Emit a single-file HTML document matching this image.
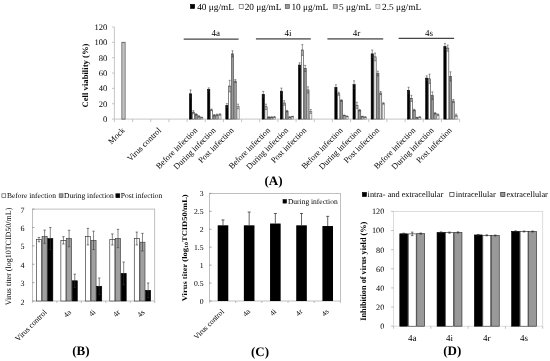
<!DOCTYPE html>
<html><head><meta charset="utf-8"><style>
html,body{margin:0;padding:0;background:#fff;}
svg{display:block;will-change:transform;}
text{font-family:"Liberation Serif", serif;text-rendering:geometricPrecision;}
</style></head><body>
<svg width="550" height="361" viewBox="0 0 550 361">
<defs><pattern id="stripe" width="1.4" height="4" patternUnits="userSpaceOnUse"><rect width="1.4" height="4" fill="#d8d8d8"/><rect width="0.6" height="4" fill="#909090"/></pattern>
<pattern id="stripe2" width="1.6" height="4" patternUnits="userSpaceOnUse"><rect width="1.6" height="4" fill="#e0e0e0"/><rect width="0.5" height="4" fill="#a8a8a8"/></pattern></defs>
<rect width="550" height="361" fill="#fff"/>
<line x1="114.4" y1="27" x2="114.4" y2="119.1" stroke="#b8b8b8" stroke-width="0.8"/>
<line x1="112" y1="119.1" x2="114.4" y2="119.1" stroke="#b8b8b8" stroke-width="0.8"/>
<text x="107.3" y="122.1" font-size="8.5" text-anchor="end" font-weight="normal" fill="#000" >0</text>
<line x1="112" y1="103.75" x2="114.4" y2="103.75" stroke="#b8b8b8" stroke-width="0.8"/>
<text x="107.3" y="106.75" font-size="8.5" text-anchor="end" font-weight="normal" fill="#000" >20</text>
<line x1="112" y1="88.4" x2="114.4" y2="88.4" stroke="#b8b8b8" stroke-width="0.8"/>
<text x="107.3" y="91.4" font-size="8.5" text-anchor="end" font-weight="normal" fill="#000" >40</text>
<line x1="112" y1="73.05" x2="114.4" y2="73.05" stroke="#b8b8b8" stroke-width="0.8"/>
<text x="107.3" y="76.05" font-size="8.5" text-anchor="end" font-weight="normal" fill="#000" >60</text>
<line x1="112" y1="57.7" x2="114.4" y2="57.7" stroke="#b8b8b8" stroke-width="0.8"/>
<text x="107.3" y="60.7" font-size="8.5" text-anchor="end" font-weight="normal" fill="#000" >80</text>
<line x1="112" y1="42.35" x2="114.4" y2="42.35" stroke="#b8b8b8" stroke-width="0.8"/>
<text x="107.3" y="45.35" font-size="8.5" text-anchor="end" font-weight="normal" fill="#000" >100</text>
<line x1="112" y1="27" x2="114.4" y2="27" stroke="#b8b8b8" stroke-width="0.8"/>
<text x="107.3" y="30" font-size="8.5" text-anchor="end" font-weight="normal" fill="#000" >120</text>
<line x1="114.4" y1="119.1" x2="459.6" y2="119.1" stroke="#b8b8b8" stroke-width="0.8"/>
<line x1="114.4" y1="119.1" x2="114.4" y2="122.1" stroke="#b8b8b8" stroke-width="0.8"/>
<line x1="132.57" y1="119.1" x2="132.57" y2="122.1" stroke="#b8b8b8" stroke-width="0.8"/>
<line x1="150.74" y1="119.1" x2="150.74" y2="122.1" stroke="#b8b8b8" stroke-width="0.8"/>
<line x1="168.91" y1="119.1" x2="168.91" y2="122.1" stroke="#b8b8b8" stroke-width="0.8"/>
<line x1="187.07" y1="119.1" x2="187.07" y2="122.1" stroke="#b8b8b8" stroke-width="0.8"/>
<line x1="205.24" y1="119.1" x2="205.24" y2="122.1" stroke="#b8b8b8" stroke-width="0.8"/>
<line x1="223.41" y1="119.1" x2="223.41" y2="122.1" stroke="#b8b8b8" stroke-width="0.8"/>
<line x1="241.58" y1="119.1" x2="241.58" y2="122.1" stroke="#b8b8b8" stroke-width="0.8"/>
<line x1="259.75" y1="119.1" x2="259.75" y2="122.1" stroke="#b8b8b8" stroke-width="0.8"/>
<line x1="277.92" y1="119.1" x2="277.92" y2="122.1" stroke="#b8b8b8" stroke-width="0.8"/>
<line x1="296.08" y1="119.1" x2="296.08" y2="122.1" stroke="#b8b8b8" stroke-width="0.8"/>
<line x1="314.25" y1="119.1" x2="314.25" y2="122.1" stroke="#b8b8b8" stroke-width="0.8"/>
<line x1="332.42" y1="119.1" x2="332.42" y2="122.1" stroke="#b8b8b8" stroke-width="0.8"/>
<line x1="350.59" y1="119.1" x2="350.59" y2="122.1" stroke="#b8b8b8" stroke-width="0.8"/>
<line x1="368.76" y1="119.1" x2="368.76" y2="122.1" stroke="#b8b8b8" stroke-width="0.8"/>
<line x1="386.93" y1="119.1" x2="386.93" y2="122.1" stroke="#b8b8b8" stroke-width="0.8"/>
<line x1="405.09" y1="119.1" x2="405.09" y2="122.1" stroke="#b8b8b8" stroke-width="0.8"/>
<line x1="423.26" y1="119.1" x2="423.26" y2="122.1" stroke="#b8b8b8" stroke-width="0.8"/>
<line x1="441.43" y1="119.1" x2="441.43" y2="122.1" stroke="#b8b8b8" stroke-width="0.8"/>
<line x1="459.6" y1="119.1" x2="459.6" y2="122.1" stroke="#b8b8b8" stroke-width="0.8"/>
<rect x="121.89" y="42.35" width="3.2" height="76.75" fill="url(#stripe2)" stroke="#606060" stroke-width="0.9"/>
<rect x="189.47" y="93.77" width="2.2" height="25.33" fill="#000" stroke="#000" stroke-width="0.6"/>
<rect x="192.27" y="112.19" width="2.2" height="6.91" fill="#fff" stroke="#333" stroke-width="0.6"/>
<rect x="195.06" y="114.49" width="2.2" height="4.6" fill="#9a9a9a" stroke="#444" stroke-width="0.6"/>
<rect x="197.86" y="116.41" width="2.2" height="2.69" fill="url(#stripe)" stroke="#555" stroke-width="0.6"/>
<rect x="200.65" y="117.56" width="2.2" height="1.53" fill="#eeeeee" stroke="#777" stroke-width="0.6"/>
<line x1="190.57" y1="89.93" x2="190.57" y2="97.61" stroke="#333" stroke-width="0.5"/>
<line x1="189.57" y1="89.93" x2="191.57" y2="89.93" stroke="#333" stroke-width="0.5"/>
<line x1="189.57" y1="97.61" x2="191.57" y2="97.61" stroke="#333" stroke-width="0.5"/>
<line x1="193.36" y1="110.66" x2="193.36" y2="113.73" stroke="#333" stroke-width="0.5"/>
<line x1="192.36" y1="110.66" x2="194.36" y2="110.66" stroke="#333" stroke-width="0.5"/>
<line x1="192.36" y1="113.73" x2="194.36" y2="113.73" stroke="#333" stroke-width="0.5"/>
<line x1="196.16" y1="113.73" x2="196.16" y2="115.26" stroke="#333" stroke-width="0.5"/>
<line x1="195.16" y1="113.73" x2="197.16" y2="113.73" stroke="#333" stroke-width="0.5"/>
<line x1="195.16" y1="115.26" x2="197.16" y2="115.26" stroke="#333" stroke-width="0.5"/>
<line x1="198.95" y1="115.65" x2="198.95" y2="117.18" stroke="#333" stroke-width="0.5"/>
<line x1="197.95" y1="115.65" x2="199.95" y2="115.65" stroke="#333" stroke-width="0.5"/>
<line x1="197.95" y1="117.18" x2="199.95" y2="117.18" stroke="#333" stroke-width="0.5"/>
<line x1="201.75" y1="117.18" x2="201.75" y2="117.95" stroke="#333" stroke-width="0.5"/>
<line x1="200.75" y1="117.18" x2="202.75" y2="117.18" stroke="#333" stroke-width="0.5"/>
<line x1="200.75" y1="117.95" x2="202.75" y2="117.95" stroke="#333" stroke-width="0.5"/>
<rect x="207.64" y="89.4" width="2.2" height="29.7" fill="#000" stroke="#000" stroke-width="0.6"/>
<rect x="210.43" y="109.89" width="2.2" height="9.21" fill="#fff" stroke="#333" stroke-width="0.6"/>
<rect x="213.23" y="115.26" width="2.2" height="3.84" fill="#9a9a9a" stroke="#444" stroke-width="0.6"/>
<rect x="216.02" y="114.88" width="2.2" height="4.22" fill="url(#stripe)" stroke="#555" stroke-width="0.6"/>
<rect x="218.82" y="114.49" width="2.2" height="4.6" fill="#eeeeee" stroke="#777" stroke-width="0.6"/>
<line x1="208.74" y1="87.86" x2="208.74" y2="90.93" stroke="#333" stroke-width="0.5"/>
<line x1="207.74" y1="87.86" x2="209.74" y2="87.86" stroke="#333" stroke-width="0.5"/>
<line x1="207.74" y1="90.93" x2="209.74" y2="90.93" stroke="#333" stroke-width="0.5"/>
<line x1="211.53" y1="109.12" x2="211.53" y2="110.66" stroke="#333" stroke-width="0.5"/>
<line x1="210.53" y1="109.12" x2="212.53" y2="109.12" stroke="#333" stroke-width="0.5"/>
<line x1="210.53" y1="110.66" x2="212.53" y2="110.66" stroke="#333" stroke-width="0.5"/>
<line x1="214.33" y1="114.49" x2="214.33" y2="116.03" stroke="#333" stroke-width="0.5"/>
<line x1="213.33" y1="114.49" x2="215.33" y2="114.49" stroke="#333" stroke-width="0.5"/>
<line x1="213.33" y1="116.03" x2="215.33" y2="116.03" stroke="#333" stroke-width="0.5"/>
<line x1="217.12" y1="114.11" x2="217.12" y2="115.65" stroke="#333" stroke-width="0.5"/>
<line x1="216.12" y1="114.11" x2="218.12" y2="114.11" stroke="#333" stroke-width="0.5"/>
<line x1="216.12" y1="115.65" x2="218.12" y2="115.65" stroke="#333" stroke-width="0.5"/>
<line x1="219.92" y1="113.73" x2="219.92" y2="115.26" stroke="#333" stroke-width="0.5"/>
<line x1="218.92" y1="113.73" x2="220.92" y2="113.73" stroke="#333" stroke-width="0.5"/>
<line x1="218.92" y1="115.26" x2="220.92" y2="115.26" stroke="#333" stroke-width="0.5"/>
<rect x="225.81" y="105.52" width="2.2" height="13.58" fill="#000" stroke="#000" stroke-width="0.6"/>
<rect x="228.6" y="86.1" width="2.2" height="33" fill="#fff" stroke="#333" stroke-width="0.6"/>
<rect x="231.4" y="53.86" width="2.2" height="65.24" fill="#9a9a9a" stroke="#444" stroke-width="0.6"/>
<rect x="234.19" y="81.11" width="2.2" height="37.99" fill="url(#stripe)" stroke="#555" stroke-width="0.6"/>
<rect x="236.99" y="106.44" width="2.2" height="12.66" fill="#eeeeee" stroke="#777" stroke-width="0.6"/>
<line x1="226.9" y1="103.6" x2="226.9" y2="107.43" stroke="#333" stroke-width="0.5"/>
<line x1="225.9" y1="103.6" x2="227.9" y2="103.6" stroke="#333" stroke-width="0.5"/>
<line x1="225.9" y1="107.43" x2="227.9" y2="107.43" stroke="#333" stroke-width="0.5"/>
<line x1="229.7" y1="80.34" x2="229.7" y2="91.85" stroke="#333" stroke-width="0.5"/>
<line x1="228.7" y1="80.34" x2="230.7" y2="80.34" stroke="#333" stroke-width="0.5"/>
<line x1="228.7" y1="91.85" x2="230.7" y2="91.85" stroke="#333" stroke-width="0.5"/>
<line x1="232.49" y1="50.79" x2="232.49" y2="56.93" stroke="#333" stroke-width="0.5"/>
<line x1="231.49" y1="50.79" x2="233.49" y2="50.79" stroke="#333" stroke-width="0.5"/>
<line x1="231.49" y1="56.93" x2="233.49" y2="56.93" stroke="#333" stroke-width="0.5"/>
<line x1="235.29" y1="79.57" x2="235.29" y2="82.64" stroke="#333" stroke-width="0.5"/>
<line x1="234.29" y1="79.57" x2="236.29" y2="79.57" stroke="#333" stroke-width="0.5"/>
<line x1="234.29" y1="82.64" x2="236.29" y2="82.64" stroke="#333" stroke-width="0.5"/>
<line x1="238.09" y1="104.13" x2="238.09" y2="108.74" stroke="#333" stroke-width="0.5"/>
<line x1="237.09" y1="104.13" x2="239.09" y2="104.13" stroke="#333" stroke-width="0.5"/>
<line x1="237.09" y1="108.74" x2="239.09" y2="108.74" stroke="#333" stroke-width="0.5"/>
<rect x="262.14" y="94.31" width="2.2" height="24.79" fill="#000" stroke="#000" stroke-width="0.6"/>
<rect x="264.94" y="106.82" width="2.2" height="12.28" fill="#fff" stroke="#333" stroke-width="0.6"/>
<rect x="267.73" y="117.18" width="2.2" height="1.92" fill="#9a9a9a" stroke="#444" stroke-width="0.6"/>
<rect x="270.53" y="117.18" width="2.2" height="1.92" fill="url(#stripe)" stroke="#555" stroke-width="0.6"/>
<rect x="273.32" y="117.03" width="2.2" height="2.07" fill="#eeeeee" stroke="#777" stroke-width="0.6"/>
<line x1="263.24" y1="91.39" x2="263.24" y2="97.23" stroke="#333" stroke-width="0.5"/>
<line x1="262.24" y1="91.39" x2="264.24" y2="91.39" stroke="#333" stroke-width="0.5"/>
<line x1="262.24" y1="97.23" x2="264.24" y2="97.23" stroke="#333" stroke-width="0.5"/>
<line x1="266.04" y1="104.13" x2="266.04" y2="109.51" stroke="#333" stroke-width="0.5"/>
<line x1="265.04" y1="104.13" x2="267.04" y2="104.13" stroke="#333" stroke-width="0.5"/>
<line x1="265.04" y1="109.51" x2="267.04" y2="109.51" stroke="#333" stroke-width="0.5"/>
<line x1="268.83" y1="116.8" x2="268.83" y2="117.56" stroke="#333" stroke-width="0.5"/>
<line x1="267.83" y1="116.8" x2="269.83" y2="116.8" stroke="#333" stroke-width="0.5"/>
<line x1="267.83" y1="117.56" x2="269.83" y2="117.56" stroke="#333" stroke-width="0.5"/>
<line x1="271.63" y1="116.8" x2="271.63" y2="117.56" stroke="#333" stroke-width="0.5"/>
<line x1="270.63" y1="116.8" x2="272.63" y2="116.8" stroke="#333" stroke-width="0.5"/>
<line x1="270.63" y1="117.56" x2="272.63" y2="117.56" stroke="#333" stroke-width="0.5"/>
<line x1="274.42" y1="116.64" x2="274.42" y2="117.41" stroke="#333" stroke-width="0.5"/>
<line x1="273.42" y1="116.64" x2="275.42" y2="116.64" stroke="#333" stroke-width="0.5"/>
<line x1="273.42" y1="117.41" x2="275.42" y2="117.41" stroke="#333" stroke-width="0.5"/>
<rect x="280.31" y="91.16" width="2.2" height="27.94" fill="#000" stroke="#000" stroke-width="0.6"/>
<rect x="283.11" y="102.98" width="2.2" height="16.12" fill="#fff" stroke="#333" stroke-width="0.6"/>
<rect x="285.9" y="111.12" width="2.2" height="7.98" fill="#9a9a9a" stroke="#444" stroke-width="0.6"/>
<rect x="288.7" y="117.1" width="2.2" height="2" fill="url(#stripe)" stroke="#555" stroke-width="0.6"/>
<rect x="291.49" y="116.64" width="2.2" height="2.46" fill="#eeeeee" stroke="#777" stroke-width="0.6"/>
<line x1="281.41" y1="88.09" x2="281.41" y2="94.23" stroke="#333" stroke-width="0.5"/>
<line x1="280.41" y1="88.09" x2="282.41" y2="88.09" stroke="#333" stroke-width="0.5"/>
<line x1="280.41" y1="94.23" x2="282.41" y2="94.23" stroke="#333" stroke-width="0.5"/>
<line x1="284.2" y1="100.68" x2="284.2" y2="105.28" stroke="#333" stroke-width="0.5"/>
<line x1="283.2" y1="100.68" x2="285.2" y2="100.68" stroke="#333" stroke-width="0.5"/>
<line x1="283.2" y1="105.28" x2="285.2" y2="105.28" stroke="#333" stroke-width="0.5"/>
<line x1="287" y1="110.35" x2="287" y2="111.89" stroke="#333" stroke-width="0.5"/>
<line x1="286" y1="110.35" x2="288" y2="110.35" stroke="#333" stroke-width="0.5"/>
<line x1="286" y1="111.89" x2="288" y2="111.89" stroke="#333" stroke-width="0.5"/>
<line x1="289.8" y1="116.72" x2="289.8" y2="117.49" stroke="#333" stroke-width="0.5"/>
<line x1="288.8" y1="116.72" x2="290.8" y2="116.72" stroke="#333" stroke-width="0.5"/>
<line x1="288.8" y1="117.49" x2="290.8" y2="117.49" stroke="#333" stroke-width="0.5"/>
<line x1="292.59" y1="116.26" x2="292.59" y2="117.03" stroke="#333" stroke-width="0.5"/>
<line x1="291.59" y1="116.26" x2="293.59" y2="116.26" stroke="#333" stroke-width="0.5"/>
<line x1="291.59" y1="117.03" x2="293.59" y2="117.03" stroke="#333" stroke-width="0.5"/>
<rect x="298.48" y="65.07" width="2.2" height="54.03" fill="#000" stroke="#000" stroke-width="0.6"/>
<rect x="301.28" y="50.02" width="2.2" height="69.08" fill="#fff" stroke="#333" stroke-width="0.6"/>
<rect x="304.07" y="68.44" width="2.2" height="50.65" fill="#9a9a9a" stroke="#444" stroke-width="0.6"/>
<rect x="306.87" y="89.94" width="2.2" height="29.16" fill="url(#stripe)" stroke="#555" stroke-width="0.6"/>
<rect x="309.66" y="111.42" width="2.2" height="7.67" fill="#eeeeee" stroke="#777" stroke-width="0.6"/>
<line x1="299.58" y1="62.77" x2="299.58" y2="67.37" stroke="#333" stroke-width="0.5"/>
<line x1="298.58" y1="62.77" x2="300.58" y2="62.77" stroke="#333" stroke-width="0.5"/>
<line x1="298.58" y1="67.37" x2="300.58" y2="67.37" stroke="#333" stroke-width="0.5"/>
<line x1="302.37" y1="44.65" x2="302.37" y2="55.4" stroke="#333" stroke-width="0.5"/>
<line x1="301.37" y1="44.65" x2="303.37" y2="44.65" stroke="#333" stroke-width="0.5"/>
<line x1="301.37" y1="55.4" x2="303.37" y2="55.4" stroke="#333" stroke-width="0.5"/>
<line x1="305.17" y1="65.38" x2="305.17" y2="71.51" stroke="#333" stroke-width="0.5"/>
<line x1="304.17" y1="65.38" x2="306.17" y2="65.38" stroke="#333" stroke-width="0.5"/>
<line x1="304.17" y1="71.51" x2="306.17" y2="71.51" stroke="#333" stroke-width="0.5"/>
<line x1="307.96" y1="86.87" x2="307.96" y2="93" stroke="#333" stroke-width="0.5"/>
<line x1="306.96" y1="86.87" x2="308.96" y2="86.87" stroke="#333" stroke-width="0.5"/>
<line x1="306.96" y1="93" x2="308.96" y2="93" stroke="#333" stroke-width="0.5"/>
<line x1="310.76" y1="109.51" x2="310.76" y2="113.34" stroke="#333" stroke-width="0.5"/>
<line x1="309.76" y1="109.51" x2="311.76" y2="109.51" stroke="#333" stroke-width="0.5"/>
<line x1="309.76" y1="113.34" x2="311.76" y2="113.34" stroke="#333" stroke-width="0.5"/>
<rect x="334.82" y="87.33" width="2.2" height="31.77" fill="#000" stroke="#000" stroke-width="0.6"/>
<rect x="337.61" y="93.77" width="2.2" height="25.33" fill="#fff" stroke="#333" stroke-width="0.6"/>
<rect x="340.41" y="100.53" width="2.2" height="18.57" fill="#9a9a9a" stroke="#444" stroke-width="0.6"/>
<rect x="343.2" y="115.42" width="2.2" height="3.68" fill="url(#stripe)" stroke="#555" stroke-width="0.6"/>
<rect x="346" y="116.34" width="2.2" height="2.76" fill="#eeeeee" stroke="#777" stroke-width="0.6"/>
<line x1="335.91" y1="84.79" x2="335.91" y2="89.86" stroke="#333" stroke-width="0.5"/>
<line x1="334.91" y1="84.79" x2="336.91" y2="84.79" stroke="#333" stroke-width="0.5"/>
<line x1="334.91" y1="89.86" x2="336.91" y2="89.86" stroke="#333" stroke-width="0.5"/>
<line x1="338.71" y1="92.24" x2="338.71" y2="95.31" stroke="#333" stroke-width="0.5"/>
<line x1="337.71" y1="92.24" x2="339.71" y2="92.24" stroke="#333" stroke-width="0.5"/>
<line x1="337.71" y1="95.31" x2="339.71" y2="95.31" stroke="#333" stroke-width="0.5"/>
<line x1="341.51" y1="99.76" x2="341.51" y2="101.29" stroke="#333" stroke-width="0.5"/>
<line x1="340.51" y1="99.76" x2="342.51" y2="99.76" stroke="#333" stroke-width="0.5"/>
<line x1="340.51" y1="101.29" x2="342.51" y2="101.29" stroke="#333" stroke-width="0.5"/>
<line x1="344.3" y1="115.03" x2="344.3" y2="115.8" stroke="#333" stroke-width="0.5"/>
<line x1="343.3" y1="115.03" x2="345.3" y2="115.03" stroke="#333" stroke-width="0.5"/>
<line x1="343.3" y1="115.8" x2="345.3" y2="115.8" stroke="#333" stroke-width="0.5"/>
<line x1="347.1" y1="115.95" x2="347.1" y2="116.72" stroke="#333" stroke-width="0.5"/>
<line x1="346.1" y1="115.95" x2="348.1" y2="115.95" stroke="#333" stroke-width="0.5"/>
<line x1="346.1" y1="116.72" x2="348.1" y2="116.72" stroke="#333" stroke-width="0.5"/>
<rect x="352.99" y="84.64" width="2.2" height="34.46" fill="#000" stroke="#000" stroke-width="0.6"/>
<rect x="355.78" y="105.28" width="2.2" height="13.81" fill="#fff" stroke="#333" stroke-width="0.6"/>
<rect x="358.58" y="110.27" width="2.2" height="8.83" fill="#9a9a9a" stroke="#444" stroke-width="0.6"/>
<rect x="361.37" y="116.64" width="2.2" height="2.46" fill="url(#stripe)" stroke="#555" stroke-width="0.6"/>
<rect x="364.17" y="117.1" width="2.2" height="2" fill="#eeeeee" stroke="#777" stroke-width="0.6"/>
<line x1="354.08" y1="80.8" x2="354.08" y2="88.48" stroke="#333" stroke-width="0.5"/>
<line x1="353.08" y1="80.8" x2="355.08" y2="80.8" stroke="#333" stroke-width="0.5"/>
<line x1="353.08" y1="88.48" x2="355.08" y2="88.48" stroke="#333" stroke-width="0.5"/>
<line x1="356.88" y1="102.22" x2="356.88" y2="108.35" stroke="#333" stroke-width="0.5"/>
<line x1="355.88" y1="102.22" x2="357.88" y2="102.22" stroke="#333" stroke-width="0.5"/>
<line x1="355.88" y1="108.35" x2="357.88" y2="108.35" stroke="#333" stroke-width="0.5"/>
<line x1="359.67" y1="109.51" x2="359.67" y2="111.04" stroke="#333" stroke-width="0.5"/>
<line x1="358.67" y1="109.51" x2="360.67" y2="109.51" stroke="#333" stroke-width="0.5"/>
<line x1="358.67" y1="111.04" x2="360.67" y2="111.04" stroke="#333" stroke-width="0.5"/>
<line x1="362.47" y1="116.26" x2="362.47" y2="117.03" stroke="#333" stroke-width="0.5"/>
<line x1="361.47" y1="116.26" x2="363.47" y2="116.26" stroke="#333" stroke-width="0.5"/>
<line x1="361.47" y1="117.03" x2="363.47" y2="117.03" stroke="#333" stroke-width="0.5"/>
<line x1="365.26" y1="116.72" x2="365.26" y2="117.49" stroke="#333" stroke-width="0.5"/>
<line x1="364.26" y1="116.72" x2="366.26" y2="116.72" stroke="#333" stroke-width="0.5"/>
<line x1="364.26" y1="117.49" x2="366.26" y2="117.49" stroke="#333" stroke-width="0.5"/>
<rect x="371.15" y="53.86" width="2.2" height="65.24" fill="#000" stroke="#000" stroke-width="0.6"/>
<rect x="373.95" y="56.93" width="2.2" height="62.17" fill="#fff" stroke="#333" stroke-width="0.6"/>
<rect x="376.74" y="73.51" width="2.2" height="45.59" fill="#9a9a9a" stroke="#444" stroke-width="0.6"/>
<rect x="379.54" y="93" width="2.2" height="26.09" fill="url(#stripe)" stroke="#555" stroke-width="0.6"/>
<rect x="382.33" y="103.44" width="2.2" height="15.66" fill="#eeeeee" stroke="#777" stroke-width="0.6"/>
<line x1="372.25" y1="50.02" x2="372.25" y2="57.7" stroke="#333" stroke-width="0.5"/>
<line x1="371.25" y1="50.02" x2="373.25" y2="50.02" stroke="#333" stroke-width="0.5"/>
<line x1="371.25" y1="57.7" x2="373.25" y2="57.7" stroke="#333" stroke-width="0.5"/>
<line x1="375.05" y1="53.09" x2="375.05" y2="60.77" stroke="#333" stroke-width="0.5"/>
<line x1="374.05" y1="53.09" x2="376.05" y2="53.09" stroke="#333" stroke-width="0.5"/>
<line x1="374.05" y1="60.77" x2="376.05" y2="60.77" stroke="#333" stroke-width="0.5"/>
<line x1="377.84" y1="71.21" x2="377.84" y2="75.81" stroke="#333" stroke-width="0.5"/>
<line x1="376.84" y1="71.21" x2="378.84" y2="71.21" stroke="#333" stroke-width="0.5"/>
<line x1="376.84" y1="75.81" x2="378.84" y2="75.81" stroke="#333" stroke-width="0.5"/>
<line x1="380.64" y1="91.47" x2="380.64" y2="94.54" stroke="#333" stroke-width="0.5"/>
<line x1="379.64" y1="91.47" x2="381.64" y2="91.47" stroke="#333" stroke-width="0.5"/>
<line x1="379.64" y1="94.54" x2="381.64" y2="94.54" stroke="#333" stroke-width="0.5"/>
<line x1="383.43" y1="102.68" x2="383.43" y2="104.21" stroke="#333" stroke-width="0.5"/>
<line x1="382.43" y1="102.68" x2="384.43" y2="102.68" stroke="#333" stroke-width="0.5"/>
<line x1="382.43" y1="104.21" x2="384.43" y2="104.21" stroke="#333" stroke-width="0.5"/>
<rect x="407.49" y="90.32" width="2.2" height="28.78" fill="#000" stroke="#000" stroke-width="0.6"/>
<rect x="410.29" y="98.38" width="2.2" height="20.72" fill="#fff" stroke="#333" stroke-width="0.6"/>
<rect x="413.08" y="110.04" width="2.2" height="9.06" fill="#9a9a9a" stroke="#444" stroke-width="0.6"/>
<rect x="415.88" y="117.72" width="2.2" height="1.38" fill="url(#stripe)" stroke="#555" stroke-width="0.6"/>
<rect x="418.67" y="117.1" width="2.2" height="2" fill="#eeeeee" stroke="#777" stroke-width="0.6"/>
<line x1="408.59" y1="87.25" x2="408.59" y2="93.39" stroke="#333" stroke-width="0.5"/>
<line x1="407.59" y1="87.25" x2="409.59" y2="87.25" stroke="#333" stroke-width="0.5"/>
<line x1="407.59" y1="93.39" x2="409.59" y2="93.39" stroke="#333" stroke-width="0.5"/>
<line x1="411.38" y1="95.31" x2="411.38" y2="101.45" stroke="#333" stroke-width="0.5"/>
<line x1="410.38" y1="95.31" x2="412.38" y2="95.31" stroke="#333" stroke-width="0.5"/>
<line x1="410.38" y1="101.45" x2="412.38" y2="101.45" stroke="#333" stroke-width="0.5"/>
<line x1="414.18" y1="109.28" x2="414.18" y2="110.81" stroke="#333" stroke-width="0.5"/>
<line x1="413.18" y1="109.28" x2="415.18" y2="109.28" stroke="#333" stroke-width="0.5"/>
<line x1="413.18" y1="110.81" x2="415.18" y2="110.81" stroke="#333" stroke-width="0.5"/>
<line x1="416.97" y1="117.33" x2="416.97" y2="118.1" stroke="#333" stroke-width="0.5"/>
<line x1="415.97" y1="117.33" x2="417.97" y2="117.33" stroke="#333" stroke-width="0.5"/>
<line x1="415.97" y1="118.1" x2="417.97" y2="118.1" stroke="#333" stroke-width="0.5"/>
<line x1="419.77" y1="116.72" x2="419.77" y2="117.49" stroke="#333" stroke-width="0.5"/>
<line x1="418.77" y1="116.72" x2="420.77" y2="116.72" stroke="#333" stroke-width="0.5"/>
<line x1="418.77" y1="117.49" x2="420.77" y2="117.49" stroke="#333" stroke-width="0.5"/>
<rect x="425.66" y="78.12" width="2.2" height="40.98" fill="#000" stroke="#000" stroke-width="0.6"/>
<rect x="428.45" y="78.81" width="2.2" height="40.29" fill="#fff" stroke="#333" stroke-width="0.6"/>
<rect x="431.25" y="95.69" width="2.2" height="23.41" fill="#9a9a9a" stroke="#444" stroke-width="0.6"/>
<rect x="434.04" y="113.34" width="2.2" height="5.76" fill="url(#stripe)" stroke="#555" stroke-width="0.6"/>
<rect x="436.84" y="114.73" width="2.2" height="4.37" fill="#eeeeee" stroke="#777" stroke-width="0.6"/>
<line x1="426.76" y1="75.81" x2="426.76" y2="80.42" stroke="#333" stroke-width="0.5"/>
<line x1="425.76" y1="75.81" x2="427.76" y2="75.81" stroke="#333" stroke-width="0.5"/>
<line x1="425.76" y1="80.42" x2="427.76" y2="80.42" stroke="#333" stroke-width="0.5"/>
<line x1="429.55" y1="74.2" x2="429.55" y2="83.41" stroke="#333" stroke-width="0.5"/>
<line x1="428.55" y1="74.2" x2="430.55" y2="74.2" stroke="#333" stroke-width="0.5"/>
<line x1="428.55" y1="83.41" x2="430.55" y2="83.41" stroke="#333" stroke-width="0.5"/>
<line x1="432.35" y1="91.85" x2="432.35" y2="99.53" stroke="#333" stroke-width="0.5"/>
<line x1="431.35" y1="91.85" x2="433.35" y2="91.85" stroke="#333" stroke-width="0.5"/>
<line x1="431.35" y1="99.53" x2="433.35" y2="99.53" stroke="#333" stroke-width="0.5"/>
<line x1="435.14" y1="112.58" x2="435.14" y2="114.11" stroke="#333" stroke-width="0.5"/>
<line x1="434.14" y1="112.58" x2="436.14" y2="112.58" stroke="#333" stroke-width="0.5"/>
<line x1="434.14" y1="114.11" x2="436.14" y2="114.11" stroke="#333" stroke-width="0.5"/>
<line x1="437.94" y1="113.96" x2="437.94" y2="115.49" stroke="#333" stroke-width="0.5"/>
<line x1="436.94" y1="113.96" x2="438.94" y2="113.96" stroke="#333" stroke-width="0.5"/>
<line x1="436.94" y1="115.49" x2="438.94" y2="115.49" stroke="#333" stroke-width="0.5"/>
<rect x="443.83" y="46.49" width="2.2" height="72.61" fill="#000" stroke="#000" stroke-width="0.6"/>
<rect x="446.62" y="48.11" width="2.2" height="70.99" fill="#fff" stroke="#333" stroke-width="0.6"/>
<rect x="449.42" y="76.43" width="2.2" height="42.67" fill="#9a9a9a" stroke="#444" stroke-width="0.6"/>
<rect x="452.21" y="100.99" width="2.2" height="18.11" fill="url(#stripe)" stroke="#555" stroke-width="0.6"/>
<rect x="455.01" y="115.26" width="2.2" height="3.84" fill="#eeeeee" stroke="#777" stroke-width="0.6"/>
<line x1="444.93" y1="43.42" x2="444.93" y2="49.56" stroke="#333" stroke-width="0.5"/>
<line x1="443.93" y1="43.42" x2="445.93" y2="43.42" stroke="#333" stroke-width="0.5"/>
<line x1="443.93" y1="49.56" x2="445.93" y2="49.56" stroke="#333" stroke-width="0.5"/>
<line x1="447.72" y1="45.04" x2="447.72" y2="51.18" stroke="#333" stroke-width="0.5"/>
<line x1="446.72" y1="45.04" x2="448.72" y2="45.04" stroke="#333" stroke-width="0.5"/>
<line x1="446.72" y1="51.18" x2="448.72" y2="51.18" stroke="#333" stroke-width="0.5"/>
<line x1="450.52" y1="71.82" x2="450.52" y2="81.03" stroke="#333" stroke-width="0.5"/>
<line x1="449.52" y1="71.82" x2="451.52" y2="71.82" stroke="#333" stroke-width="0.5"/>
<line x1="449.52" y1="81.03" x2="451.52" y2="81.03" stroke="#333" stroke-width="0.5"/>
<line x1="453.31" y1="99.45" x2="453.31" y2="102.52" stroke="#333" stroke-width="0.5"/>
<line x1="452.31" y1="99.45" x2="454.31" y2="99.45" stroke="#333" stroke-width="0.5"/>
<line x1="452.31" y1="102.52" x2="454.31" y2="102.52" stroke="#333" stroke-width="0.5"/>
<line x1="456.11" y1="114.11" x2="456.11" y2="116.41" stroke="#333" stroke-width="0.5"/>
<line x1="455.11" y1="114.11" x2="457.11" y2="114.11" stroke="#333" stroke-width="0.5"/>
<line x1="455.11" y1="116.41" x2="457.11" y2="116.41" stroke="#333" stroke-width="0.5"/>
<text x="125.28" y="130.8" font-size="8.4" text-anchor="end" font-weight="normal" fill="#000" transform="rotate(-45 125.28 130.8)">Mock</text>
<text x="161.62" y="130.8" font-size="8.4" text-anchor="end" font-weight="normal" fill="#000" transform="rotate(-45 161.62 130.8)">Virus control</text>
<text x="197.96" y="130.8" font-size="8.4" text-anchor="end" font-weight="normal" fill="#000" transform="rotate(-45 197.96 130.8)">Before infection</text>
<text x="216.13" y="130.8" font-size="8.4" text-anchor="end" font-weight="normal" fill="#000" transform="rotate(-45 216.13 130.8)">During infection</text>
<text x="234.29" y="130.8" font-size="8.4" text-anchor="end" font-weight="normal" fill="#000" transform="rotate(-45 234.29 130.8)">Post infection</text>
<text x="270.63" y="130.8" font-size="8.4" text-anchor="end" font-weight="normal" fill="#000" transform="rotate(-45 270.63 130.8)">Before infection</text>
<text x="288.8" y="130.8" font-size="8.4" text-anchor="end" font-weight="normal" fill="#000" transform="rotate(-45 288.8 130.8)">During infection</text>
<text x="306.97" y="130.8" font-size="8.4" text-anchor="end" font-weight="normal" fill="#000" transform="rotate(-45 306.97 130.8)">Post infection</text>
<text x="343.31" y="130.8" font-size="8.4" text-anchor="end" font-weight="normal" fill="#000" transform="rotate(-45 343.31 130.8)">Before infection</text>
<text x="361.47" y="130.8" font-size="8.4" text-anchor="end" font-weight="normal" fill="#000" transform="rotate(-45 361.47 130.8)">During infection</text>
<text x="379.64" y="130.8" font-size="8.4" text-anchor="end" font-weight="normal" fill="#000" transform="rotate(-45 379.64 130.8)">Post infection</text>
<text x="415.98" y="130.8" font-size="8.4" text-anchor="end" font-weight="normal" fill="#000" transform="rotate(-45 415.98 130.8)">Before infection</text>
<text x="434.15" y="130.8" font-size="8.4" text-anchor="end" font-weight="normal" fill="#000" transform="rotate(-45 434.15 130.8)">During infection</text>
<text x="452.32" y="130.8" font-size="8.4" text-anchor="end" font-weight="normal" fill="#000" transform="rotate(-45 452.32 130.8)">Post infection</text>
<text x="88.2" y="75.5" font-size="8.3" text-anchor="middle" font-weight="bold" fill="#000" textLength="64" lengthAdjust="spacingAndGlyphs" transform="rotate(-90 88.2 75.5)">Cell viability (%)</text>
<text x="215.7" y="35.6" font-size="9" text-anchor="middle" font-weight="normal" fill="#000" >4a</text>
<line x1="183.7" y1="39.1" x2="238.6" y2="39.1" stroke="#444" stroke-width="1.2"/>
<text x="288.1" y="35.6" font-size="9" text-anchor="middle" font-weight="normal" fill="#000" >4i</text>
<line x1="255.9" y1="38.9" x2="310.8" y2="38.9" stroke="#777" stroke-width="1.8"/>
<text x="356.5" y="35.6" font-size="9" text-anchor="middle" font-weight="normal" fill="#000" >4r</text>
<line x1="327.4" y1="38.8" x2="383.2" y2="38.8" stroke="#777" stroke-width="1.8"/>
<text x="429" y="35.6" font-size="9" text-anchor="middle" font-weight="normal" fill="#000" >4s</text>
<line x1="398.6" y1="38.4" x2="454.1" y2="38.4" stroke="#444" stroke-width="1.2"/>
<rect x="190.6" y="4.4" width="4" height="4" fill="#000" stroke="#000" stroke-width="0.7"/>
<text x="197.2" y="9.8" font-size="9.3" text-anchor="start" font-weight="normal" fill="#000" >40 μg/mL</text>
<rect x="239.2" y="4.4" width="4" height="4" fill="#fff" stroke="#666" stroke-width="0.7"/>
<text x="244.7" y="9.8" font-size="9.3" text-anchor="start" font-weight="normal" fill="#000" >20 μg/mL</text>
<rect x="285.3" y="4.4" width="4" height="4" fill="#9a9a9a" stroke="#555" stroke-width="0.7"/>
<text x="291.4" y="9.8" font-size="9.3" text-anchor="start" font-weight="normal" fill="#000" >10 μg/mL</text>
<rect x="333.3" y="4.4" width="4" height="4" fill="url(#stripe)" stroke="#777" stroke-width="0.7"/>
<text x="339" y="9.8" font-size="9.3" text-anchor="start" font-weight="normal" fill="#000" >5 μg/mL</text>
<rect x="375.9" y="4.4" width="4" height="4" fill="#e8e8e8" stroke="#999" stroke-width="0.7"/>
<text x="382" y="9.8" font-size="9.3" text-anchor="start" font-weight="normal" fill="#000" >2.5 μg/mL</text>
<text x="273.5" y="184.5" font-size="13" text-anchor="middle" font-weight="bold" fill="#000" >(A)</text>
<rect x="32.4" y="209.1" width="122.3" height="91.9" fill="none" stroke="#b0b0b0" stroke-width="0.8"/>
<line x1="32.4" y1="301" x2="34.4" y2="301" stroke="#888" stroke-width="0.8"/>
<text x="24.6" y="304.5" font-size="8" text-anchor="end" font-weight="normal" fill="#000" >2</text>
<line x1="32.4" y1="282.62" x2="34.4" y2="282.62" stroke="#888" stroke-width="0.8"/>
<text x="24.6" y="286.12" font-size="8" text-anchor="end" font-weight="normal" fill="#000" >3</text>
<line x1="32.4" y1="264.24" x2="34.4" y2="264.24" stroke="#888" stroke-width="0.8"/>
<text x="24.6" y="267.74" font-size="8" text-anchor="end" font-weight="normal" fill="#000" >4</text>
<line x1="32.4" y1="245.86" x2="34.4" y2="245.86" stroke="#888" stroke-width="0.8"/>
<text x="24.6" y="249.36" font-size="8" text-anchor="end" font-weight="normal" fill="#000" >5</text>
<line x1="32.4" y1="227.48" x2="34.4" y2="227.48" stroke="#888" stroke-width="0.8"/>
<text x="24.6" y="230.98" font-size="8" text-anchor="end" font-weight="normal" fill="#000" >6</text>
<line x1="32.4" y1="209.1" x2="34.4" y2="209.1" stroke="#888" stroke-width="0.8"/>
<text x="24.6" y="212.6" font-size="8" text-anchor="end" font-weight="normal" fill="#000" >7</text>
<line x1="32.4" y1="301" x2="32.4" y2="303" stroke="#b0b0b0" stroke-width="0.8"/>
<line x1="56.86" y1="301" x2="56.86" y2="303" stroke="#b0b0b0" stroke-width="0.8"/>
<line x1="81.32" y1="301" x2="81.32" y2="303" stroke="#b0b0b0" stroke-width="0.8"/>
<line x1="105.78" y1="301" x2="105.78" y2="303" stroke="#b0b0b0" stroke-width="0.8"/>
<line x1="130.24" y1="301" x2="130.24" y2="303" stroke="#b0b0b0" stroke-width="0.8"/>
<line x1="154.7" y1="301" x2="154.7" y2="303" stroke="#b0b0b0" stroke-width="0.8"/>
<rect x="36.42" y="239.61" width="5.07" height="61.39" fill="#fff" stroke="#222" stroke-width="0.6"/>
<rect x="42.09" y="236.67" width="5.07" height="64.33" fill="#a0a0a0" stroke="#333" stroke-width="0.6"/>
<rect x="47.77" y="238.51" width="5.07" height="62.49" fill="#000" stroke="#000" stroke-width="0.6"/>
<line x1="38.96" y1="237.41" x2="38.96" y2="241.82" stroke="#333" stroke-width="0.6"/>
<line x1="37.76" y1="237.41" x2="40.16" y2="237.41" stroke="#333" stroke-width="0.6"/>
<line x1="37.76" y1="241.82" x2="40.16" y2="241.82" stroke="#333" stroke-width="0.6"/>
<line x1="44.63" y1="230.05" x2="44.63" y2="243.29" stroke="#333" stroke-width="0.6"/>
<line x1="43.43" y1="230.05" x2="45.83" y2="230.05" stroke="#333" stroke-width="0.6"/>
<line x1="43.43" y1="243.29" x2="45.83" y2="243.29" stroke="#333" stroke-width="0.6"/>
<line x1="50.3" y1="227.48" x2="50.3" y2="249.54" stroke="#333" stroke-width="0.6"/>
<line x1="49.1" y1="227.48" x2="51.5" y2="227.48" stroke="#333" stroke-width="0.6"/>
<line x1="49.1" y1="249.54" x2="51.5" y2="249.54" stroke="#333" stroke-width="0.6"/>
<rect x="60.88" y="240.35" width="5.07" height="60.65" fill="#fff" stroke="#222" stroke-width="0.6"/>
<rect x="66.55" y="238.51" width="5.07" height="62.49" fill="#a0a0a0" stroke="#333" stroke-width="0.6"/>
<rect x="72.22" y="280.78" width="5.07" height="20.22" fill="#000" stroke="#000" stroke-width="0.6"/>
<line x1="63.42" y1="236.67" x2="63.42" y2="244.02" stroke="#333" stroke-width="0.6"/>
<line x1="62.22" y1="236.67" x2="64.62" y2="236.67" stroke="#333" stroke-width="0.6"/>
<line x1="62.22" y1="244.02" x2="64.62" y2="244.02" stroke="#333" stroke-width="0.6"/>
<line x1="69.09" y1="230.24" x2="69.09" y2="246.78" stroke="#333" stroke-width="0.6"/>
<line x1="67.89" y1="230.24" x2="70.29" y2="230.24" stroke="#333" stroke-width="0.6"/>
<line x1="67.89" y1="246.78" x2="70.29" y2="246.78" stroke="#333" stroke-width="0.6"/>
<line x1="74.76" y1="274.17" x2="74.76" y2="287.4" stroke="#333" stroke-width="0.6"/>
<line x1="73.56" y1="274.17" x2="75.96" y2="274.17" stroke="#333" stroke-width="0.6"/>
<line x1="73.56" y1="287.4" x2="75.96" y2="287.4" stroke="#333" stroke-width="0.6"/>
<rect x="85.34" y="236.67" width="5.07" height="64.33" fill="#fff" stroke="#222" stroke-width="0.6"/>
<rect x="91.01" y="240.35" width="5.07" height="60.65" fill="#a0a0a0" stroke="#333" stroke-width="0.6"/>
<rect x="96.68" y="286.3" width="5.07" height="14.7" fill="#000" stroke="#000" stroke-width="0.6"/>
<line x1="87.88" y1="228.4" x2="87.88" y2="244.94" stroke="#333" stroke-width="0.6"/>
<line x1="86.68" y1="228.4" x2="89.08" y2="228.4" stroke="#333" stroke-width="0.6"/>
<line x1="86.68" y1="244.94" x2="89.08" y2="244.94" stroke="#333" stroke-width="0.6"/>
<line x1="93.55" y1="231.16" x2="93.55" y2="249.54" stroke="#333" stroke-width="0.6"/>
<line x1="92.35" y1="231.16" x2="94.75" y2="231.16" stroke="#333" stroke-width="0.6"/>
<line x1="92.35" y1="249.54" x2="94.75" y2="249.54" stroke="#333" stroke-width="0.6"/>
<line x1="99.22" y1="278.02" x2="99.22" y2="294.57" stroke="#333" stroke-width="0.6"/>
<line x1="98.02" y1="278.02" x2="100.42" y2="278.02" stroke="#333" stroke-width="0.6"/>
<line x1="98.02" y1="294.57" x2="100.42" y2="294.57" stroke="#333" stroke-width="0.6"/>
<rect x="109.8" y="239.43" width="5.07" height="61.57" fill="#fff" stroke="#222" stroke-width="0.6"/>
<rect x="115.47" y="238.51" width="5.07" height="62.49" fill="#a0a0a0" stroke="#333" stroke-width="0.6"/>
<rect x="121.14" y="273.43" width="5.07" height="27.57" fill="#000" stroke="#000" stroke-width="0.6"/>
<line x1="112.34" y1="233.91" x2="112.34" y2="244.94" stroke="#333" stroke-width="0.6"/>
<line x1="111.14" y1="233.91" x2="113.54" y2="233.91" stroke="#333" stroke-width="0.6"/>
<line x1="111.14" y1="244.94" x2="113.54" y2="244.94" stroke="#333" stroke-width="0.6"/>
<line x1="118.01" y1="229.32" x2="118.01" y2="247.7" stroke="#333" stroke-width="0.6"/>
<line x1="116.81" y1="229.32" x2="119.21" y2="229.32" stroke="#333" stroke-width="0.6"/>
<line x1="116.81" y1="247.7" x2="119.21" y2="247.7" stroke="#333" stroke-width="0.6"/>
<line x1="123.68" y1="262.03" x2="123.68" y2="284.83" stroke="#333" stroke-width="0.6"/>
<line x1="122.48" y1="262.03" x2="124.88" y2="262.03" stroke="#333" stroke-width="0.6"/>
<line x1="122.48" y1="284.83" x2="124.88" y2="284.83" stroke="#333" stroke-width="0.6"/>
<rect x="134.26" y="238.51" width="5.07" height="62.49" fill="#fff" stroke="#222" stroke-width="0.6"/>
<rect x="139.93" y="242.18" width="5.07" height="58.82" fill="#a0a0a0" stroke="#333" stroke-width="0.6"/>
<rect x="145.6" y="290.34" width="5.07" height="10.66" fill="#000" stroke="#000" stroke-width="0.6"/>
<line x1="136.8" y1="232.07" x2="136.8" y2="244.94" stroke="#333" stroke-width="0.6"/>
<line x1="135.6" y1="232.07" x2="138" y2="232.07" stroke="#333" stroke-width="0.6"/>
<line x1="135.6" y1="244.94" x2="138" y2="244.94" stroke="#333" stroke-width="0.6"/>
<line x1="142.47" y1="233.36" x2="142.47" y2="251.01" stroke="#333" stroke-width="0.6"/>
<line x1="141.27" y1="233.36" x2="143.67" y2="233.36" stroke="#333" stroke-width="0.6"/>
<line x1="141.27" y1="251.01" x2="143.67" y2="251.01" stroke="#333" stroke-width="0.6"/>
<line x1="148.14" y1="282.99" x2="148.14" y2="297.69" stroke="#333" stroke-width="0.6"/>
<line x1="146.94" y1="282.99" x2="149.34" y2="282.99" stroke="#333" stroke-width="0.6"/>
<line x1="146.94" y1="297.69" x2="149.34" y2="297.69" stroke="#333" stroke-width="0.6"/>
<text x="47.23" y="312.8" font-size="7.8" text-anchor="end" font-weight="normal" fill="#000" transform="rotate(-45 47.23 312.8)">Virus control</text>
<text x="71.69" y="312.8" font-size="7.8" text-anchor="end" font-weight="normal" fill="#000" transform="rotate(-45 71.69 312.8)">4a</text>
<text x="96.15" y="312.8" font-size="7.8" text-anchor="end" font-weight="normal" fill="#000" transform="rotate(-45 96.15 312.8)">4i</text>
<text x="120.61" y="312.8" font-size="7.8" text-anchor="end" font-weight="normal" fill="#000" transform="rotate(-45 120.61 312.8)">4r</text>
<text x="145.07" y="312.8" font-size="7.8" text-anchor="end" font-weight="normal" fill="#000" transform="rotate(-45 145.07 312.8)">4s</text>
<text x="11.2" y="256.5" font-size="8" text-anchor="middle" font-weight="normal" fill="#000" transform="rotate(-90 11.2 256.5)">Virus titer (log10TCID50/mL)</text>
<rect x="1.9" y="193.8" width="3.8" height="3.8" fill="#fff" stroke="#555" stroke-width="0.7"/>
<text x="7" y="198.3" font-size="7.5" text-anchor="start" font-weight="normal" fill="#000" >Before infection</text>
<rect x="59.2" y="193.8" width="3.8" height="3.8" fill="#a0a0a0" stroke="#555" stroke-width="0.7"/>
<text x="64" y="198.3" font-size="7.5" text-anchor="start" font-weight="normal" fill="#000" >During infection</text>
<rect x="115.9" y="193.8" width="3.8" height="3.8" fill="#000" stroke="#000" stroke-width="0.7"/>
<text x="120.8" y="198.3" font-size="7.5" text-anchor="start" font-weight="normal" fill="#000" >Post infection</text>
<text x="80.9" y="355" font-size="13" text-anchor="middle" font-weight="bold" fill="#000" >(B)</text>
<rect x="209.5" y="193.4" width="130.9" height="107.6" fill="none" stroke="#b0b0b0" stroke-width="0.8"/>
<line x1="209.5" y1="301" x2="211.5" y2="301" stroke="#888" stroke-width="0.8"/>
<text x="203.6" y="303.7" font-size="7.7" text-anchor="end" font-weight="normal" fill="#000" >0</text>
<line x1="209.5" y1="283.07" x2="211.5" y2="283.07" stroke="#888" stroke-width="0.8"/>
<text x="203.6" y="285.77" font-size="7.7" text-anchor="end" font-weight="normal" fill="#000" >0.5</text>
<line x1="209.5" y1="265.13" x2="211.5" y2="265.13" stroke="#888" stroke-width="0.8"/>
<text x="203.6" y="267.83" font-size="7.7" text-anchor="end" font-weight="normal" fill="#000" >1</text>
<line x1="209.5" y1="247.2" x2="211.5" y2="247.2" stroke="#888" stroke-width="0.8"/>
<text x="203.6" y="249.9" font-size="7.7" text-anchor="end" font-weight="normal" fill="#000" >1.5</text>
<line x1="209.5" y1="229.27" x2="211.5" y2="229.27" stroke="#888" stroke-width="0.8"/>
<text x="203.6" y="231.97" font-size="7.7" text-anchor="end" font-weight="normal" fill="#000" >2</text>
<line x1="209.5" y1="211.33" x2="211.5" y2="211.33" stroke="#888" stroke-width="0.8"/>
<text x="203.6" y="214.03" font-size="7.7" text-anchor="end" font-weight="normal" fill="#000" >2.5</text>
<line x1="209.5" y1="193.4" x2="211.5" y2="193.4" stroke="#888" stroke-width="0.8"/>
<text x="203.6" y="196.1" font-size="7.7" text-anchor="end" font-weight="normal" fill="#000" >3</text>
<line x1="209.5" y1="301" x2="209.5" y2="303" stroke="#b0b0b0" stroke-width="0.8"/>
<line x1="235.68" y1="301" x2="235.68" y2="303" stroke="#b0b0b0" stroke-width="0.8"/>
<line x1="261.86" y1="301" x2="261.86" y2="303" stroke="#b0b0b0" stroke-width="0.8"/>
<line x1="288.04" y1="301" x2="288.04" y2="303" stroke="#b0b0b0" stroke-width="0.8"/>
<line x1="314.22" y1="301" x2="314.22" y2="303" stroke="#b0b0b0" stroke-width="0.8"/>
<line x1="340.4" y1="301" x2="340.4" y2="303" stroke="#b0b0b0" stroke-width="0.8"/>
<rect x="217.69" y="225.32" width="10.6" height="75.68" fill="#000" stroke="none" stroke-width="0.6"/>
<line x1="222.99" y1="219.94" x2="222.99" y2="225.32" stroke="#222" stroke-width="0.7"/>
<line x1="221.49" y1="219.94" x2="224.49" y2="219.94" stroke="#222" stroke-width="0.7"/>
<rect x="243.87" y="225.32" width="10.6" height="75.68" fill="#000" stroke="none" stroke-width="0.6"/>
<line x1="249.17" y1="212.05" x2="249.17" y2="225.32" stroke="#222" stroke-width="0.7"/>
<line x1="247.67" y1="212.05" x2="250.67" y2="212.05" stroke="#222" stroke-width="0.7"/>
<rect x="270.05" y="223.53" width="10.6" height="77.47" fill="#000" stroke="none" stroke-width="0.6"/>
<line x1="275.35" y1="213.49" x2="275.35" y2="223.53" stroke="#222" stroke-width="0.7"/>
<line x1="273.85" y1="213.49" x2="276.85" y2="213.49" stroke="#222" stroke-width="0.7"/>
<rect x="296.23" y="225.32" width="10.6" height="75.68" fill="#000" stroke="none" stroke-width="0.6"/>
<line x1="301.53" y1="213.49" x2="301.53" y2="225.32" stroke="#222" stroke-width="0.7"/>
<line x1="300.03" y1="213.49" x2="303.03" y2="213.49" stroke="#222" stroke-width="0.7"/>
<rect x="322.41" y="226.04" width="10.6" height="74.96" fill="#000" stroke="none" stroke-width="0.6"/>
<line x1="327.71" y1="216.35" x2="327.71" y2="226.04" stroke="#222" stroke-width="0.7"/>
<line x1="326.21" y1="216.35" x2="329.21" y2="216.35" stroke="#222" stroke-width="0.7"/>
<text x="224.49" y="312" font-size="7.5" text-anchor="end" font-weight="normal" fill="#000" transform="rotate(-45 224.49 312)">Virus control</text>
<text x="250.67" y="312" font-size="7.5" text-anchor="end" font-weight="normal" fill="#000" transform="rotate(-45 250.67 312)">4a</text>
<text x="276.85" y="312" font-size="7.5" text-anchor="end" font-weight="normal" fill="#000" transform="rotate(-45 276.85 312)">4i</text>
<text x="303.03" y="312" font-size="7.5" text-anchor="end" font-weight="normal" fill="#000" transform="rotate(-45 303.03 312)">4r</text>
<text x="329.21" y="312" font-size="7.5" text-anchor="end" font-weight="normal" fill="#000" transform="rotate(-45 329.21 312)">4s</text>
<text x="186.6" y="247.8" font-size="7.2" font-weight="bold" text-anchor="middle" textLength="107" lengthAdjust="spacingAndGlyphs" transform="rotate(-90 186.6 247.8)">Virus titer (log<tspan font-size="5" dy="1.6">10</tspan><tspan dy="-1.6">TCID50/mL)</tspan></text>
<rect x="283" y="199.6" width="3.5" height="3.5" fill="#000" stroke="#000" stroke-width="0.6"/>
<text x="287.9" y="203.8" font-size="7.5" text-anchor="start" font-weight="normal" fill="#000" >During infection</text>
<text x="260" y="355.5" font-size="13" text-anchor="middle" font-weight="bold" fill="#000" >(C)</text>
<rect x="393.6" y="211.4" width="149.1" height="114.8" fill="none" stroke="#d4d4d4" stroke-width="0.8"/>
<line x1="391.1" y1="326.2" x2="393.6" y2="326.2" stroke="#b0b0b0" stroke-width="0.8"/>
<text x="384.3" y="329.1" font-size="8.2" text-anchor="end" font-weight="normal" fill="#000" >0</text>
<line x1="391.1" y1="307.07" x2="393.6" y2="307.07" stroke="#b0b0b0" stroke-width="0.8"/>
<text x="384.3" y="309.97" font-size="8.2" text-anchor="end" font-weight="normal" fill="#000" >20</text>
<line x1="391.1" y1="287.93" x2="393.6" y2="287.93" stroke="#b0b0b0" stroke-width="0.8"/>
<text x="384.3" y="290.83" font-size="8.2" text-anchor="end" font-weight="normal" fill="#000" >40</text>
<line x1="391.1" y1="268.8" x2="393.6" y2="268.8" stroke="#b0b0b0" stroke-width="0.8"/>
<text x="384.3" y="271.7" font-size="8.2" text-anchor="end" font-weight="normal" fill="#000" >60</text>
<line x1="391.1" y1="249.67" x2="393.6" y2="249.67" stroke="#b0b0b0" stroke-width="0.8"/>
<text x="384.3" y="252.57" font-size="8.2" text-anchor="end" font-weight="normal" fill="#000" >80</text>
<line x1="391.1" y1="230.53" x2="393.6" y2="230.53" stroke="#b0b0b0" stroke-width="0.8"/>
<text x="384.3" y="233.43" font-size="8.2" text-anchor="end" font-weight="normal" fill="#000" >100</text>
<line x1="391.1" y1="211.4" x2="393.6" y2="211.4" stroke="#b0b0b0" stroke-width="0.8"/>
<text x="384.3" y="214.3" font-size="8.2" text-anchor="end" font-weight="normal" fill="#000" >120</text>
<line x1="393.6" y1="326.2" x2="393.6" y2="328.7" stroke="#b0b0b0" stroke-width="0.8"/>
<line x1="430.88" y1="326.2" x2="430.88" y2="328.7" stroke="#b0b0b0" stroke-width="0.8"/>
<line x1="468.15" y1="326.2" x2="468.15" y2="328.7" stroke="#b0b0b0" stroke-width="0.8"/>
<line x1="505.43" y1="326.2" x2="505.43" y2="328.7" stroke="#b0b0b0" stroke-width="0.8"/>
<line x1="542.7" y1="326.2" x2="542.7" y2="328.7" stroke="#b0b0b0" stroke-width="0.8"/>
<rect x="399.79" y="233.79" width="7.9" height="92.41" fill="#000" stroke="#000" stroke-width="0.6"/>
<rect x="408.29" y="233.88" width="7.9" height="92.32" fill="#fff" stroke="#222" stroke-width="0.6"/>
<rect x="416.79" y="233.59" width="7.9" height="92.61" fill="#999" stroke="#222" stroke-width="0.6"/>
<line x1="403.74" y1="233.21" x2="403.74" y2="234.36" stroke="#222" stroke-width="0.6"/>
<line x1="402.54" y1="233.21" x2="404.94" y2="233.21" stroke="#222" stroke-width="0.6"/>
<line x1="402.54" y1="234.36" x2="404.94" y2="234.36" stroke="#222" stroke-width="0.6"/>
<line x1="412.24" y1="232.16" x2="412.24" y2="235.6" stroke="#222" stroke-width="0.6"/>
<line x1="411.04" y1="232.16" x2="413.44" y2="232.16" stroke="#222" stroke-width="0.6"/>
<line x1="411.04" y1="235.6" x2="413.44" y2="235.6" stroke="#222" stroke-width="0.6"/>
<line x1="420.74" y1="233.02" x2="420.74" y2="234.17" stroke="#222" stroke-width="0.6"/>
<line x1="419.54" y1="233.02" x2="421.94" y2="233.02" stroke="#222" stroke-width="0.6"/>
<line x1="419.54" y1="234.17" x2="421.94" y2="234.17" stroke="#222" stroke-width="0.6"/>
<rect x="437.06" y="232.45" width="7.9" height="93.75" fill="#000" stroke="#000" stroke-width="0.6"/>
<rect x="445.56" y="232.64" width="7.9" height="93.56" fill="#fff" stroke="#222" stroke-width="0.6"/>
<rect x="454.06" y="232.45" width="7.9" height="93.75" fill="#999" stroke="#222" stroke-width="0.6"/>
<line x1="441.01" y1="231.87" x2="441.01" y2="233.02" stroke="#222" stroke-width="0.6"/>
<line x1="439.81" y1="231.87" x2="442.21" y2="231.87" stroke="#222" stroke-width="0.6"/>
<line x1="439.81" y1="233.02" x2="442.21" y2="233.02" stroke="#222" stroke-width="0.6"/>
<line x1="449.51" y1="232.06" x2="449.51" y2="233.21" stroke="#222" stroke-width="0.6"/>
<line x1="448.31" y1="232.06" x2="450.71" y2="232.06" stroke="#222" stroke-width="0.6"/>
<line x1="448.31" y1="233.21" x2="450.71" y2="233.21" stroke="#222" stroke-width="0.6"/>
<line x1="458.01" y1="231.87" x2="458.01" y2="233.02" stroke="#222" stroke-width="0.6"/>
<line x1="456.81" y1="231.87" x2="459.21" y2="231.87" stroke="#222" stroke-width="0.6"/>
<line x1="456.81" y1="233.02" x2="459.21" y2="233.02" stroke="#222" stroke-width="0.6"/>
<rect x="474.34" y="234.93" width="7.9" height="91.27" fill="#000" stroke="#000" stroke-width="0.6"/>
<rect x="482.84" y="235.32" width="7.9" height="90.88" fill="#fff" stroke="#222" stroke-width="0.6"/>
<rect x="491.34" y="235.51" width="7.9" height="90.69" fill="#999" stroke="#222" stroke-width="0.6"/>
<line x1="478.29" y1="234.46" x2="478.29" y2="235.41" stroke="#222" stroke-width="0.6"/>
<line x1="477.09" y1="234.46" x2="479.49" y2="234.46" stroke="#222" stroke-width="0.6"/>
<line x1="477.09" y1="235.41" x2="479.49" y2="235.41" stroke="#222" stroke-width="0.6"/>
<line x1="486.79" y1="234.84" x2="486.79" y2="235.79" stroke="#222" stroke-width="0.6"/>
<line x1="485.59" y1="234.84" x2="487.99" y2="234.84" stroke="#222" stroke-width="0.6"/>
<line x1="485.59" y1="235.79" x2="487.99" y2="235.79" stroke="#222" stroke-width="0.6"/>
<line x1="495.29" y1="235.03" x2="495.29" y2="235.99" stroke="#222" stroke-width="0.6"/>
<line x1="494.09" y1="235.03" x2="496.49" y2="235.03" stroke="#222" stroke-width="0.6"/>
<line x1="494.09" y1="235.99" x2="496.49" y2="235.99" stroke="#222" stroke-width="0.6"/>
<rect x="511.61" y="231.3" width="7.9" height="94.9" fill="#000" stroke="#000" stroke-width="0.6"/>
<rect x="520.11" y="231.49" width="7.9" height="94.71" fill="#fff" stroke="#222" stroke-width="0.6"/>
<rect x="528.61" y="231.49" width="7.9" height="94.71" fill="#999" stroke="#222" stroke-width="0.6"/>
<line x1="515.56" y1="230.82" x2="515.56" y2="231.78" stroke="#222" stroke-width="0.6"/>
<line x1="514.36" y1="230.82" x2="516.76" y2="230.82" stroke="#222" stroke-width="0.6"/>
<line x1="514.36" y1="231.78" x2="516.76" y2="231.78" stroke="#222" stroke-width="0.6"/>
<line x1="524.06" y1="231.01" x2="524.06" y2="231.97" stroke="#222" stroke-width="0.6"/>
<line x1="522.86" y1="231.01" x2="525.26" y2="231.01" stroke="#222" stroke-width="0.6"/>
<line x1="522.86" y1="231.97" x2="525.26" y2="231.97" stroke="#222" stroke-width="0.6"/>
<line x1="532.56" y1="231.01" x2="532.56" y2="231.97" stroke="#222" stroke-width="0.6"/>
<line x1="531.36" y1="231.01" x2="533.76" y2="231.01" stroke="#222" stroke-width="0.6"/>
<line x1="531.36" y1="231.97" x2="533.76" y2="231.97" stroke="#222" stroke-width="0.6"/>
<text x="412.24" y="340.6" font-size="9" text-anchor="middle" font-weight="normal" fill="#000" >4a</text>
<text x="449.51" y="340.6" font-size="9" text-anchor="middle" font-weight="normal" fill="#000" >4i</text>
<text x="486.79" y="340.6" font-size="9" text-anchor="middle" font-weight="normal" fill="#000" >4r</text>
<text x="524.06" y="340.6" font-size="9" text-anchor="middle" font-weight="normal" fill="#000" >4s</text>
<text x="366.4" y="271.2" font-size="8.25" text-anchor="middle" font-weight="bold" fill="#000" transform="rotate(-90 366.4 271.2)">Inhibition of virus yield (%)</text>
<rect x="362.3" y="192.4" width="4.2" height="4.2" fill="#000" stroke="#000" stroke-width="0.6"/>
<text x="367.6" y="196.7" font-size="8.3" text-anchor="start" font-weight="normal" fill="#000" >intra- and extracellular</text>
<rect x="449.8" y="192.4" width="4.2" height="4.2" fill="#fff" stroke="#333" stroke-width="0.7"/>
<text x="455.7" y="196.7" font-size="8.3" text-anchor="start" font-weight="normal" fill="#000" >intracellular</text>
<rect x="500.7" y="192.4" width="4.2" height="4.2" fill="#999" stroke="#333" stroke-width="0.7"/>
<text x="506.4" y="196.7" font-size="8.3" text-anchor="start" font-weight="normal" fill="#000" >extracellular</text>
<text x="452.3" y="355.2" font-size="13" text-anchor="middle" font-weight="bold" fill="#000" >(D)</text>
</svg>
</body></html>
